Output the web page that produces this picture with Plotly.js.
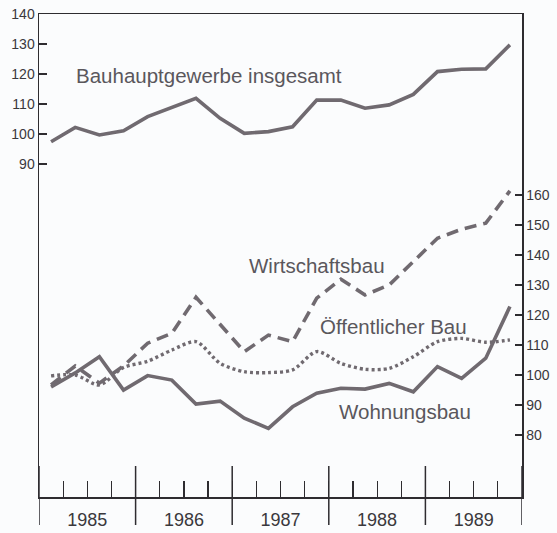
<!DOCTYPE html>
<html>
<head>
<meta charset="utf-8">
<script src="https://cdn.plot.ly/plotly-3.0.1.min.js"></script>
<style>html,body{margin:0;padding:0;background:#fbfcfd;}</style>
</head>
<body>
<div id="chart" style="width:557px;height:533px;"></div>
<script>
// Quarterly index values, 1985 Q1 .. 1989 Q4
var years = [1985, 1986, 1987, 1988, 1989];
var quarters = [1, 2, 3, 4];
var bauhauptgewerbe = [97.4, 102.2, 99.7, 101.1, 105.8, 109.0, 111.9, 105.2, 100.2, 100.8,
                       102.4, 111.3, 111.3, 108.6, 109.7, 113.2, 120.8, 121.6, 121.7, 129.7];
var wirtschaftsbau = [96.7, 103.0, 97.3, 103.0, 110.6, 113.9, 125.9, 116.7, 107.8, 113.3,
                      111.1, 125.6, 131.9, 126.7, 130.0, 137.8, 145.6, 148.6, 150.6, 161.4];
var oeffentlicherBau = [99.7, 100.0, 96.7, 102.5, 104.6, 108.3, 111.1, 103.9, 101.1, 100.8,
                        101.7, 107.8, 103.9, 101.9, 102.2, 106.1, 111.1, 112.2, 110.9, 111.7];
var wohnungsbau = [96.0, 100.7, 106.1, 95.0, 99.8, 98.3, 90.3, 91.3, 85.6, 82.2,
                   89.4, 93.9, 95.6, 95.3, 97.2, 94.4, 102.8, 98.9, 105.6, 122.8];
var leftTicks = [90, 100, 110, 120, 130, 140];
var rightTicks = [80, 90, 100, 110, 120, 130, 140, 150, 160];
var seriesLabels = ["Bauhauptgewerbe insgesamt", "Wirtschaftsbau", "Öffentlicher Bau", "Wohnungsbau"];

var xq = [];
years.forEach(function (y) { quarters.forEach(function (q) { xq.push(y + (q - 0.5) / 4); }); });

var tickVals = [], tickText = [];
years.forEach(function (y) {
  quarters.forEach(function (q) {
    var v = y + (q - 1) / 4;
    tickVals.push(v);
    tickText.push(q === 3 ? String(y) : "");
  });
});
tickVals.push(years[years.length - 1] + 1); tickText.push("");

var lineCol = "rgb(112,106,112)";
var traces = [
  {x: xq, y: bauhauptgewerbe, yaxis: "y", mode: "lines", line: {color: lineCol, width: 3.6}},
  {x: xq, y: wirtschaftsbau, yaxis: "y2", mode: "lines", line: {color: lineCol, width: 3.6, dash: "12px,7px"}},
  {x: xq, y: oeffentlicherBau, yaxis: "y2", mode: "lines", line: {color: lineCol, width: 3.4, dash: "3px,3px", shape: "spline", smoothing: 0.8}},
  {x: xq, y: wohnungsbau, yaxis: "y2", mode: "lines", line: {color: lineCol, width: 3.6}}
];

var W = 557, H = 533, L = 39, R = 35, T = 14, B = 36;
var pw = W - L - R, ph = H - T - B;
function px(xp) { return (xp - L) / pw; }
function py(yp) { return (H - B - yp) / ph; }

var shapes = [];
years.concat([years[years.length - 1] + 1]).forEach(function (y) {
  shapes.push({type: "line", xref: "x", yref: "paper", x0: y, x1: y, y0: py(525), y1: py(466),
               line: {color: "#2e2c30", width: 1.5}});
});

var labFont = {family: "Liberation Sans, Arial, sans-serif", size: 20.5, color: "#5a575c"};
var annPos = [[74, 75], [247, 265], [318, 327], [337, 411]];
var annotations = seriesLabels.map(function (t, i) {
  return {text: t, xref: "paper", yref: "paper", x: px(annPos[i][0]), y: py(annPos[i][1]),
          xanchor: "left", yanchor: "middle", showarrow: false, font: labFont};
});

var layout = {
  width: W, height: H,
  margin: {l: L, r: R, t: T, b: B, pad: 0},
  paper_bgcolor: "#fbfcfd", plot_bgcolor: "#fbfcfd",
  showlegend: false,
  xaxis: {range: [1985, 1990], showgrid: false, zeroline: false, showline: true, mirror: true,
          linecolor: "#2e2c30", linewidth: 1.5, tickmode: "array", tickvals: tickVals, ticktext: tickText,
          ticks: "inside", ticklen: 16, tickwidth: 1.2, tickcolor: "#2e2c30",
          ticklabelstandoff: 6,
          tickfont: {family: "Liberation Sans, Arial, sans-serif", size: 18, color: "#3a383c"}},
  yaxis: {range: [140 - ph / 3, 140], showgrid: false, zeroline: false, showline: true,
          linecolor: "#2e2c30", linewidth: 1.5, tickmode: "array", tickvals: leftTicks,
          ticks: "inside", ticklen: 8, tickwidth: 1.2, tickcolor: "#2e2c30",
          tickfont: {family: "Liberation Sans, Arial, sans-serif", size: 14, color: "#3a383c"}},
  yaxis2: {range: [160 - ph / 3 + (195 - T) / 3, 160 + (195 - T) / 3], overlaying: "y", side: "right",
           showgrid: false, zeroline: false, showline: true,
           linecolor: "#2e2c30", linewidth: 1.5, tickmode: "array", tickvals: rightTicks,
           ticks: "inside", ticklen: 7, tickwidth: 1.2, tickcolor: "#2e2c30",
           tickfont: {family: "Liberation Sans, Arial, sans-serif", size: 14, color: "#3a383c"}},
  shapes: shapes,
  annotations: annotations
};

Plotly.newPlot("chart", traces, layout, {staticPlot: true, displayModeBar: false});
</script>
</body>
</html>
